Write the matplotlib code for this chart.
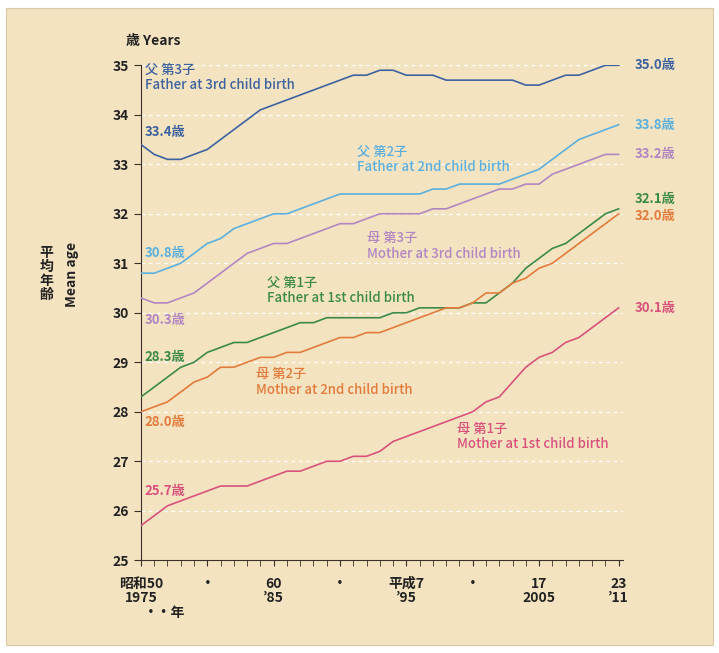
import matplotlib
matplotlib.use('Agg')
import matplotlib.pyplot as plt
from matplotlib.patches import Rectangle

plt.rcParams['font.family'] = ['Noto Sans CJK JP', 'DejaVu Sans']

years = list(range(1975, 2012))
father_3rd = [33.4, 33.2, 33.1, 33.1, 33.2, 33.3, 33.5, 33.7, 33.9, 34.1, 34.2, 34.3, 34.4,
              34.5, 34.6, 34.7, 34.8, 34.8, 34.9, 34.9, 34.8, 34.8, 34.8, 34.7, 34.7, 34.7,
              34.7, 34.7, 34.7, 34.6, 34.6, 34.7, 34.8, 34.8, 34.9, 35.0, 35.0]
father_2nd = [30.8, 30.8, 30.9, 31.0, 31.2, 31.4, 31.5, 31.7, 31.8, 31.9, 32.0, 32.0, 32.1,
              32.2, 32.3, 32.4, 32.4, 32.4, 32.4, 32.4, 32.4, 32.4, 32.5, 32.5, 32.6, 32.6,
              32.6, 32.6, 32.7, 32.8, 32.9, 33.1, 33.3, 33.5, 33.6, 33.7, 33.8]
mother_3rd = [30.3, 30.2, 30.2, 30.3, 30.4, 30.6, 30.8, 31.0, 31.2, 31.3, 31.4, 31.4, 31.5,
              31.6, 31.7, 31.8, 31.8, 31.9, 32.0, 32.0, 32.0, 32.0, 32.1, 32.1, 32.2, 32.3,
              32.4, 32.5, 32.5, 32.6, 32.6, 32.8, 32.9, 33.0, 33.1, 33.2, 33.2]
father_1st = [28.3, 28.5, 28.7, 28.9, 29.0, 29.2, 29.3, 29.4, 29.4, 29.5, 29.6, 29.7, 29.8,
              29.8, 29.9, 29.9, 29.9, 29.9, 29.9, 30.0, 30.0, 30.1, 30.1, 30.1, 30.1, 30.2,
              30.2, 30.4, 30.6, 30.9, 31.1, 31.3, 31.4, 31.6, 31.8, 32.0, 32.1]
mother_2nd = [28.0, 28.1, 28.2, 28.4, 28.6, 28.7, 28.9, 28.9, 29.0, 29.1, 29.1, 29.2, 29.2,
              29.3, 29.4, 29.5, 29.5, 29.6, 29.6, 29.7, 29.8, 29.9, 30.0, 30.1, 30.1, 30.2,
              30.4, 30.4, 30.6, 30.7, 30.9, 31.0, 31.2, 31.4, 31.6, 31.8, 32.0]
mother_1st = [25.7, 25.9, 26.1, 26.2, 26.3, 26.4, 26.5, 26.5, 26.5, 26.6, 26.7, 26.8, 26.8,
              26.9, 27.0, 27.0, 27.1, 27.1, 27.2, 27.4, 27.5, 27.6, 27.7, 27.8, 27.9, 28.0,
              28.2, 28.3, 28.6, 28.9, 29.1, 29.2, 29.4, 29.5, 29.7, 29.9, 30.1]

xtick_pos = [1975, 1980, 1985, 1990, 1995, 2000, 2005, 2011]
xtick_labels = ['昭和50\n1975', '・', '60\n’85', '・', '平成7\n’95', '・', '17\n2005', '23\n’11']

# (data, colour, label jp, label en, label top xy, start label centre xy)
series = [
    (father_3rd, '#3d62a0', '父 第3子', 'Father at 3rd child birth', (1975.3, 35.05), (1975.3, 33.65)),
    (father_2nd, '#5bb0de', '父 第2子', 'Father at 2nd child birth', (1991.3, 33.4), (1975.3, 31.2)),
    (mother_3rd, '#b286c2', '母 第3子', 'Mother at 3rd child birth', (1992.0, 31.65), (1975.3, 29.85)),
    (father_1st, '#3b8a48', '父 第1子', 'Father at 1st child birth', (1984.5, 30.75), (1975.3, 29.1)),
    (mother_2nd, '#e27b3c', '母 第2子', 'Mother at 2nd child birth', (1983.7, 28.9), (1975.3, 27.8)),
    (mother_1st, '#d8527c', '母 第1子', 'Mother at 1st child birth', (1998.8, 27.8), (1975.3, 26.4)),
]
end_offsets = [0, 0, 0, 0.2, -0.05, 0]

fig = plt.figure(figsize=(7.19, 6.53), dpi=100)
fig.patch.set_facecolor('white')
fig.add_artist(Rectangle((0.008, 0.012), 0.984, 0.976, transform=fig.transFigure,
                         facecolor='#f4e3c0', edgecolor='#d8c8a8', lw=0.8, zorder=0))
ax = fig.add_axes([0.196, 0.142, 0.670, 0.758])
ax.set_facecolor('none')

for y in range(26, 36):
    ax.axhline(y, color='white', lw=0.9, ls=(0, (3, 3)), zorder=1)

for data, col, jp, en, lxy, sxy in series:
    ax.plot(years, data, color=col, lw=1.2, zorder=3)
    ax.text(lxy[0], lxy[1], jp + '\n' + en, color=col, fontsize=9.5, fontweight='medium',
            va='top', linespacing=1.15)
    ax.text(sxy[0], sxy[1], f'{data[0]:.1f}歳', color=col, fontsize=9.5, fontweight='bold',
            va='center')

for (data, col, *_), off in zip(series, end_offsets):
    ax.text(2012.2, data[-1] + off, f'{data[-1]:.1f}歳', color=col, fontsize=9.5,
            fontweight='bold', va='center')

ax.set_xlim(1975, 2011.3)
ax.set_ylim(25, 35)
ax.spines['top'].set_visible(False)
ax.spines['right'].set_visible(False)
for s in ('left', 'bottom'):
    ax.spines[s].set_color('#3a3028')
ax.set_yticks(range(25, 36))
ax.set_yticklabels([str(v) for v in range(25, 36)], fontsize=10, fontweight='bold', color='#222')
ax.set_xticks(years, minor=True)
ax.set_xticks(xtick_pos)
ax.set_xticklabels(xtick_labels, fontsize=10, fontweight='bold', color='#222', linespacing=1.0)
ax.tick_params(axis='x', which='both', length=4, direction='out', color='#3a3028', pad=8)
ax.tick_params(axis='y', length=5, direction='out', color='#3a3028')

ax.text(-0.03, 1.035, '歳 Years', transform=ax.transAxes, fontsize=10, fontweight='bold',
        color='#222', va='bottom')
fig.text(0.055, 0.58, '平\n均\n年\n齢', fontsize=10, fontweight='bold', color='#222',
         ha='left', va='center', linespacing=1.0)
fig.text(0.1, 0.58, 'Mean age', fontsize=10, fontweight='bold', color='#222',
         rotation=90, ha='center', va='center')
fig.text(0.2, 0.055, '・・年', fontsize=10, fontweight='bold', color='#222', ha='left')

fig.savefig('out.png', dpi=100, facecolor=fig.get_facecolor())
